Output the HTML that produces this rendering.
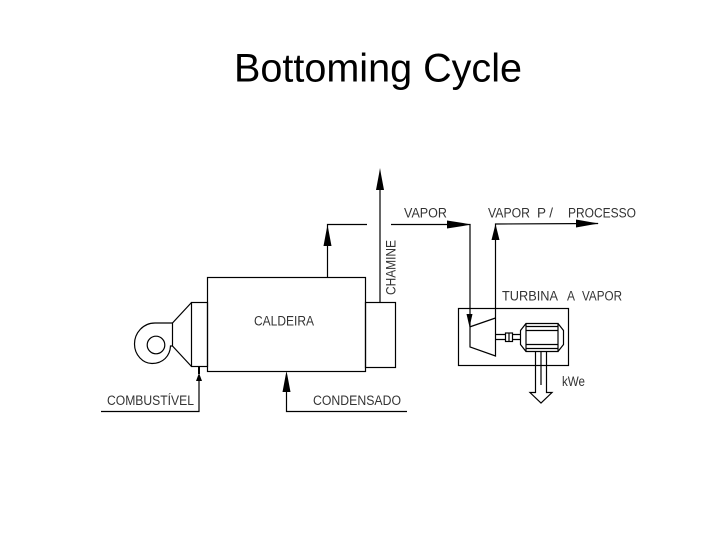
<!DOCTYPE html>
<html>
<head>
<meta charset="utf-8">
<style>
html,body{margin:0;padding:0;background:#fff;width:720px;height:540px;overflow:hidden}
svg{display:block}
text{font-family:"Liberation Sans",sans-serif;fill:#111}
.l{font-size:13.5px;fill:#333}
</style>
</head>
<body>
<svg width="720" height="540" viewBox="0 0 720 540" xmlns="http://www.w3.org/2000/svg">
<text x="234" y="81.500" font-size="40" textLength="288" lengthAdjust="spacingAndGlyphs" style="fill:#000">Bottoming Cycle</text>
<g fill="none" stroke="#000" stroke-width="1.2">
<!-- boiler -->
<rect x="207.500" y="277.500" width="158" height="94"/>
<rect x="365.500" y="302.500" width="30" height="65"/>
<rect x="191.500" y="302.500" width="16" height="64"/>
<path d="M191.500 302.500L172.500 323V346L191.500 366.500"/>
<path d="M172.500 323H155C143 323 134.500 333 134.500 344C134.500 355 143 363.500 152 363.500C163 363.500 170 356 170.500 346H172.500"/>
<circle cx="156" cy="345" r="8.800"/>
<!-- pipes -->
<path d="M380 186V302"/>
<path d="M327.500 277V224.500H367"/>
<path d="M391 224.500H470V347L495.500 356V224L598 223.500"/>
<path d="M469.500 327L495.500 318"/>
<path d="M199 380V411.500H101"/>
<path d="M286.500 385V411.500H407"/>
<!-- turbine box -->
<rect x="458.500" y="308.500" width="110" height="57"/>
<!-- shaft and coupling -->
<path d="M496 334.500H505M496 339.500H505M512 334.500H520M512 339.500H520"/>
<rect x="505.500" y="333" width="7" height="8.500"/>
<path d="M509 333V341.500"/>
<!-- motor -->
<path d="M526 323.500H558V351.500H526L520.500 344.500V330.500ZM526 323.500V351.500M558 323.500L563.500 330.500V344.500L558 351.500"/>
<path d="M526 326.500H558M526 330.500H558M526 344.500H558M526 348.500H558"/>
<!-- output arrow -->
<path d="M535.500 351.500V392.500H530L541 403L552 392.500H546.500V351.500M541 351.500V385"/>
</g>
<g fill="#000">
<path d="M380 168L381 174L384 190H376L379 174Z"/>
<path d="M327.500 225L328.500 230L331.500 246H323.500L326.500 230Z"/>
<path d="M471 224.500L463 223L447 220.500V228.500L463 226Z"/>
<path d="M495.500 224L496.500 228L499.500 240H491.500L494.500 228Z"/>
<path d="M599 223.500L590 222L576 219.500V227.500L590 225Z"/>
<path d="M469.500 327L466.500 314H472.500Z"/>
<path d="M199 373L202 381H196Z"/>
<rect x="198" y="366" width="2" height="8"/>
<path d="M286.500 371L287.500 376L290.500 392H282.500L285.500 376Z"/>
</g>
<text class="l" x="404" y="217.500" textLength="43" lengthAdjust="spacingAndGlyphs">VAPOR</text>
<text class="l" x="488" y="217.500" textLength="42" lengthAdjust="spacingAndGlyphs">VAPOR</text>
<text class="l" x="537" y="217.500" textLength="16" lengthAdjust="spacing">P/</text>
<text class="l" x="568" y="217.500" textLength="68" lengthAdjust="spacingAndGlyphs">PROCESSO</text>
<text class="l" x="502" y="300.500" textLength="56" lengthAdjust="spacingAndGlyphs">TURBINA</text>
<text class="l" x="567" y="300.500" textLength="8" lengthAdjust="spacingAndGlyphs">A</text>
<text class="l" x="582" y="300.500" textLength="40" lengthAdjust="spacingAndGlyphs">VAPOR</text>
<text class="l" x="254" y="325.500" textLength="60" lengthAdjust="spacingAndGlyphs">CALDEIRA</text>
<text class="l" x="107" y="405" textLength="87" lengthAdjust="spacingAndGlyphs">COMBUSTÍVEL</text>
<text class="l" x="313" y="405" textLength="88" lengthAdjust="spacingAndGlyphs">CONDENSADO</text>
<text class="l" x="562" y="386" textLength="23" lengthAdjust="spacingAndGlyphs">kWe</text>
<text class="l" transform="translate(395.500 295) rotate(-90)" textLength="55" lengthAdjust="spacingAndGlyphs">CHAMINE</text>
</svg>
</body>
</html>
